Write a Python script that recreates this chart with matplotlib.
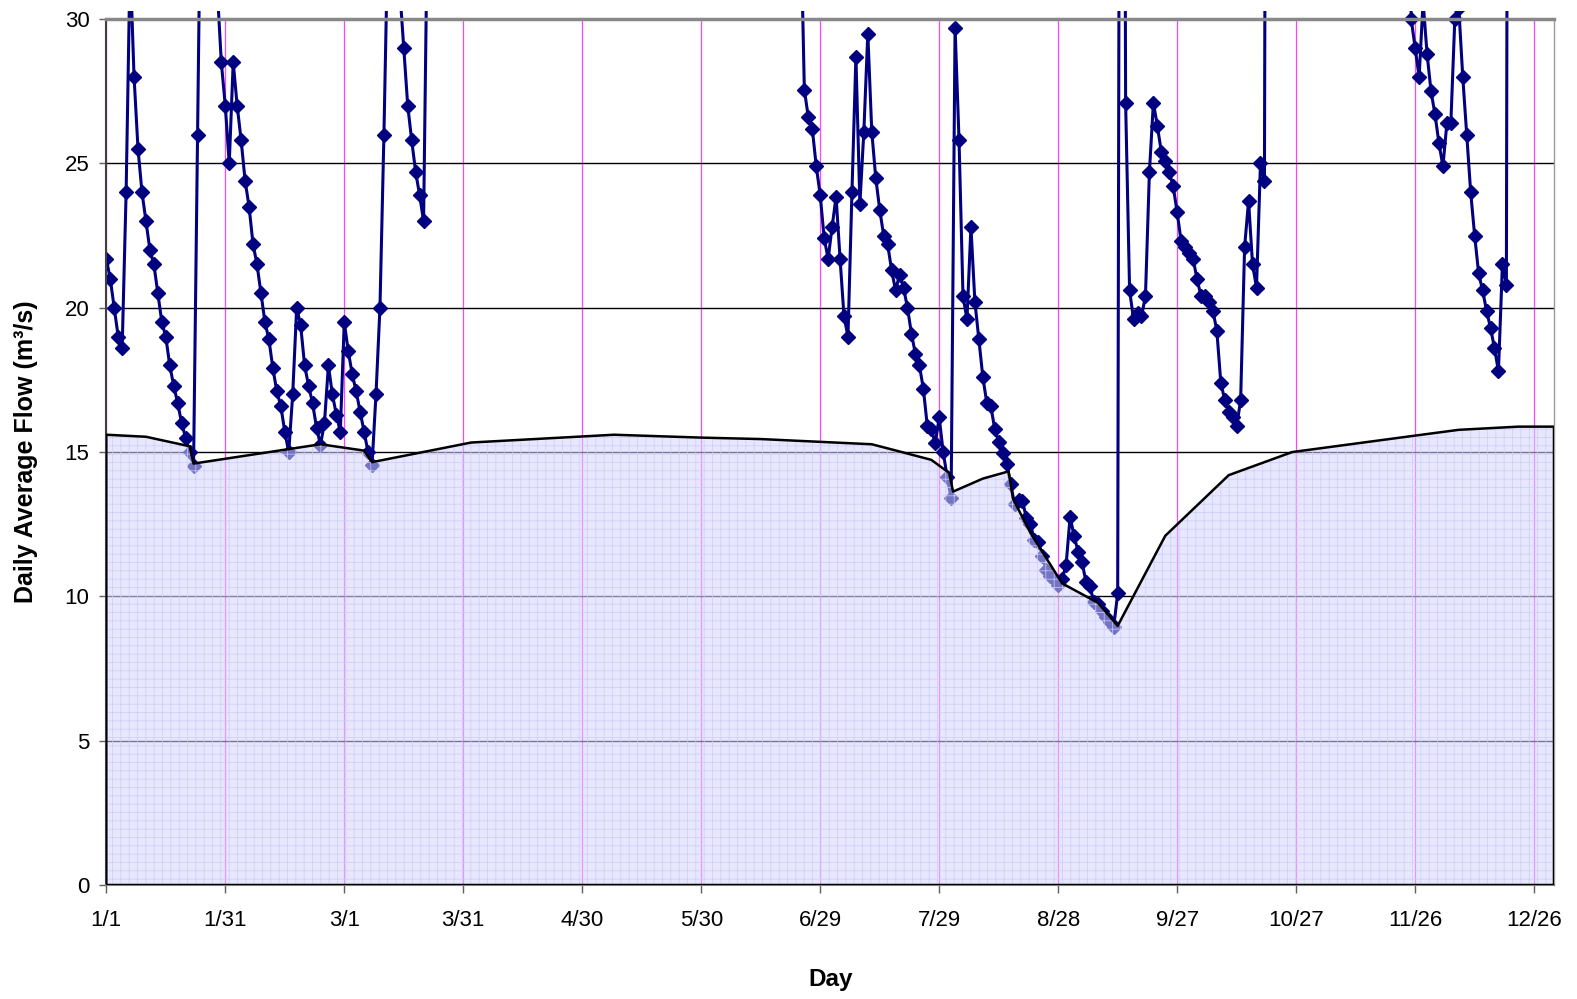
import numpy as np
import matplotlib
matplotlib.use("Agg")
import matplotlib.pyplot as plt
from matplotlib.patches import Rectangle

# Daily flow (m3/s), day 0 = 1/1 of a leap year. Off-scale days (> 30) that
# are never drawn on the chart are left as NaN; the ones next to visible
# points are estimates so the lines leave the top edge the same way.
N_DAYS = 366

winter_start = 0
winter_flow = [
    21.7, 21.0, 20.0, 19.0, 18.6, 24.0, 32.0, 28.0, 25.5, 24.0,
    23.0, 22.0, 21.5, 20.5, 19.5, 19.0, 18.0, 17.3, 16.7, 16.0,
    15.5, 15.0, 14.5, 26.0, 37.0, 48.0, 55.0, 44.0, 31.0, 28.5,
    27.0, 25.0, 28.5, 27.0, 25.8, 24.4, 23.5, 22.2, 21.5, 20.5,
    19.5, 18.9, 17.9, 17.1, 16.6, 15.7, 15.0, 17.0, 20.0, 19.4,
    18.0, 17.3, 16.7, 15.85, 15.25, 16.0, 18.0, 17.0, 16.3, 15.7,
    19.5, 18.5, 17.7, 17.1, 16.4, 15.7, 15.0, 14.55, 17.0, 20.0,
    26.0, 33.0, 42.0, 38.0, 31.0, 29.0, 27.0, 25.8, 24.7, 23.9,
    23.0, 34.0,
]

summer_start = 174
summer_flow = [
    45.0, 34.0, 27.55, 26.6, 26.2, 24.9,
    23.9, 22.4, 21.7, 22.8, 23.85, 21.7, 19.7, 19.0, 24.0, 28.7,
    23.6, 26.1, 29.5, 26.1, 24.5, 23.4, 22.5, 22.2, 21.3, 20.6,
    21.15, 20.7, 20.0, 19.1, 18.4, 18.0, 17.2, 15.9, 15.8, 15.3,
    16.2, 15.0, 14.15, 13.4, 29.7, 25.8, 20.4, 19.6, 22.8, 20.2,
    18.9, 17.6, 16.7, 16.6, 15.8, 15.35, 14.95, 14.6, 13.9, 13.2,
    13.35, 13.3, 12.7, 12.5, 11.95, 11.9, 11.4, 10.9, 10.7, 10.6,
    10.4, 10.6, 11.1, 12.75, 12.1, 11.55, 11.2, 10.5, 10.35, 9.8,
    9.75, 9.5, 9.3, 9.1, 8.95, 10.1, 75.0,
]

autumn_start = 257
autumn_flow = [
    27.1, 20.6, 19.6, 19.8, 19.7, 20.4, 24.7, 27.1, 26.3, 25.4,
    25.1, 24.7, 24.2, 23.3, 22.3, 22.1, 21.9, 21.7, 21.0, 20.4,
    20.4, 20.2, 19.9, 19.2, 17.4, 16.8, 16.4, 16.2, 15.9, 16.8,
    22.1, 23.7, 21.5, 20.7, 25.0, 24.4, 80.0,
]

december_start = 328
december_flow = [
    40.0, 30.0, 29.0, 28.0, 30.6, 28.8, 27.5, 26.7, 25.7, 24.9,
    26.4, 26.4, 30.0, 30.4, 28.0, 26.0, 24.0, 22.5, 21.2, 20.6,
    19.9, 19.3, 18.6, 17.8, 21.5, 20.8, 90.0,
]

# Baseflow envelope (shaded area)
base_days = [0, 10, 21, 22, 54, 65, 67, 92, 128, 150, 165, 193, 200, 208,
             212.5, 213.5, 221, 227.5, 228.6, 233, 241, 250, 255, 267, 283,
             299, 330, 341, 356, 365]
base_flow = [15.6, 15.53, 15.2, 14.6, 15.27, 15.05, 14.65, 15.33, 15.6, 15.5,
             15.45, 15.27, 15.02, 14.73, 14.28, 13.63, 14.08, 14.33, 13.38,
             12.2, 10.45, 9.78, 8.98, 12.1, 14.2, 15.0, 15.57, 15.77, 15.88,
             15.88]

tick_days = [0, 30, 60, 90, 120, 150, 180, 210, 240, 270, 300, 330, 360]
tick_labels = ["1/1", "1/31", "3/1", "3/31", "4/30", "5/30", "6/29", "7/29",
               "8/28", "9/27", "10/27", "11/26", "12/26"]

days = np.arange(N_DAYS)
flow = np.full(N_DAYS, np.nan)
for start, vals in ((winter_start, winter_flow), (summer_start, summer_flow),
                    (autumn_start, autumn_flow), (december_start, december_flow)):
    flow[start:start + len(vals)] = vals

plt.rcParams["font.family"] = ["Liberation Sans", "DejaVu Sans"]
plt.rcParams["hatch.linewidth"] = 0.5

fig = plt.figure(figsize=(15.77, 9.99), dpi=100)
ax = fig.add_axes([0.0674, 0.1141, 0.918, 0.8668])
ax.set_xlim(0, 365)
ax.set_ylim(0, 30)

# gridlines
ax.set_axisbelow(True)
ax.set_yticks(range(0, 31, 5))
ax.set_xticks(tick_days)
ax.set_xticklabels(tick_labels)
ax.grid(axis="y", color="black", lw=1.0)
ax.grid(axis="x", color="#ff44ff", lw=0.9)

# flow series
line, = ax.plot(days, flow, color="#000080", lw=2.2, marker="D", ms=7.5,
                mfc="#000080", mec="#000080", zorder=2)
clip = Rectangle((0, 0), 1, 1.009, transform=ax.transAxes)
line.set_clip_path(clip)

# baseflow area drawn over the flow line
ax.fill_between(base_days, 0, base_flow, facecolor="#d4d4ff", alpha=0.55,
                lw=0, zorder=3)
ax.fill_between(base_days, 0, base_flow, facecolor="none", edgecolor="#cdcdf6",
                hatch="++", lw=0, zorder=3.1)
ax.fill_between(base_days, 0, base_flow, facecolor="none", edgecolor="black",
                lw=1.8, zorder=4)

for side, col, lw in (("top", "#888888", 2.5), ("right", "#999999", 1.0),
                      ("left", "#404040", 1.5), ("bottom", "#808080", 1.5)):
    ax.spines[side].set_color(col)
    ax.spines[side].set_linewidth(lw)

ax.tick_params(axis="x", length=6, width=1, pad=12, labelsize=16, color="#606060")
ax.tick_params(axis="y", length=5, width=1, pad=7, labelsize=16, color="#606060")

ax.set_ylabel("Daily Average Flow (m³/s)", fontsize=18, fontweight="bold")
ax.yaxis.set_label_coords(-0.047, 0.5)
ax.set_xlabel("Day", fontsize=17.5, fontweight="bold")
ax.xaxis.set_label_coords(0.5, -0.096)

fig.savefig("out.png", dpi=100)
